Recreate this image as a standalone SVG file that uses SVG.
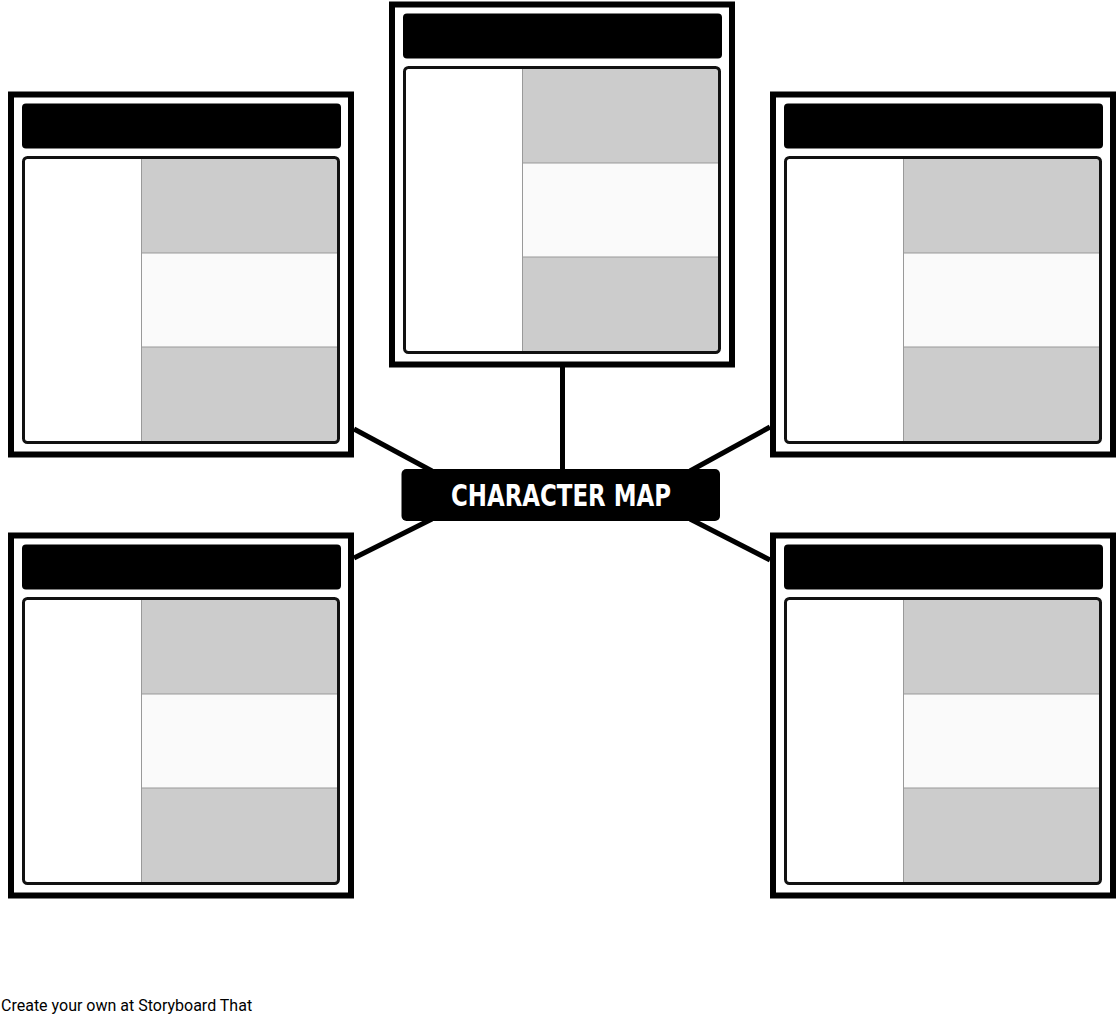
<svg xmlns="http://www.w3.org/2000/svg" width="1116" height="1015" viewBox="0 0 1116 1015">
<style>
.frame{fill:#fff;stroke:#000;stroke-width:6}
.title{fill:#000}
.g{fill:#cccccc}
.w{fill:#fafafa}
.div{stroke:#999;stroke-width:1;fill:none}
.conn{stroke:#000;stroke-width:5;fill:none}
.lbl{fill:#fff;font-family:"DejaVu Sans Condensed","DejaVu Sans",sans-serif;font-weight:bold;font-size:31px}
.foot{fill:#000;font-family:Roboto,"Liberation Sans",sans-serif;font-size:16px}
</style>
<defs>
<g id="card">
<rect class="frame" x="0" y="0" width="340" height="360"/>
<rect class="title" x="11" y="9" width="319" height="45" rx="4"/>
<rect class="g" x="130.5" y="64.5" width="196" height="94"/>
<rect class="w" x="130.5" y="158.5" width="196" height="94"/>
<rect class="g" x="130.5" y="252.5" width="196" height="95"/>
<line class="div" x1="130.5" y1="64" x2="130.5" y2="348"/>
<line class="div" x1="130.5" y1="158.5" x2="327" y2="158.5"/>
<line class="div" x1="130.5" y1="252.5" x2="327" y2="252.5"/>
<rect x="12.5" y="63" width="315" height="285" rx="4" fill="none" stroke="#111" stroke-width="3"/>
</g>
</defs>
<g id="connectors">
<line class="conn" x1="562.5" y1="366" x2="562.5" y2="470"/>
<line class="conn" x1="354" y1="429" x2="432" y2="471"/>
<line class="conn" x1="770" y1="427" x2="690" y2="471"/>
<line class="conn" x1="354" y1="558" x2="432" y2="519"/>
<line class="conn" x1="770" y1="560" x2="690" y2="519"/>
</g>
<g id="card-top"><use href="#card" x="392" y="4.5"/></g>
<g id="card-top-left"><use href="#card" x="11" y="94.5"/></g>
<g id="card-top-right"><use href="#card" x="773" y="94.5"/></g>
<g id="card-bottom-left"><use href="#card" x="11" y="535.5"/></g>
<g id="card-bottom-right"><use href="#card" x="773" y="535.5"/></g>
<g id="center">
<rect x="401.5" y="469" width="318.5" height="52" rx="5" fill="#000"/>
<text class="lbl" x="561" y="505.5" text-anchor="middle" textLength="220" lengthAdjust="spacingAndGlyphs">CHARACTER MAP</text>
</g>
<text class="foot" x="1" y="1011">Create your own at Storyboard That</text>
</svg>
